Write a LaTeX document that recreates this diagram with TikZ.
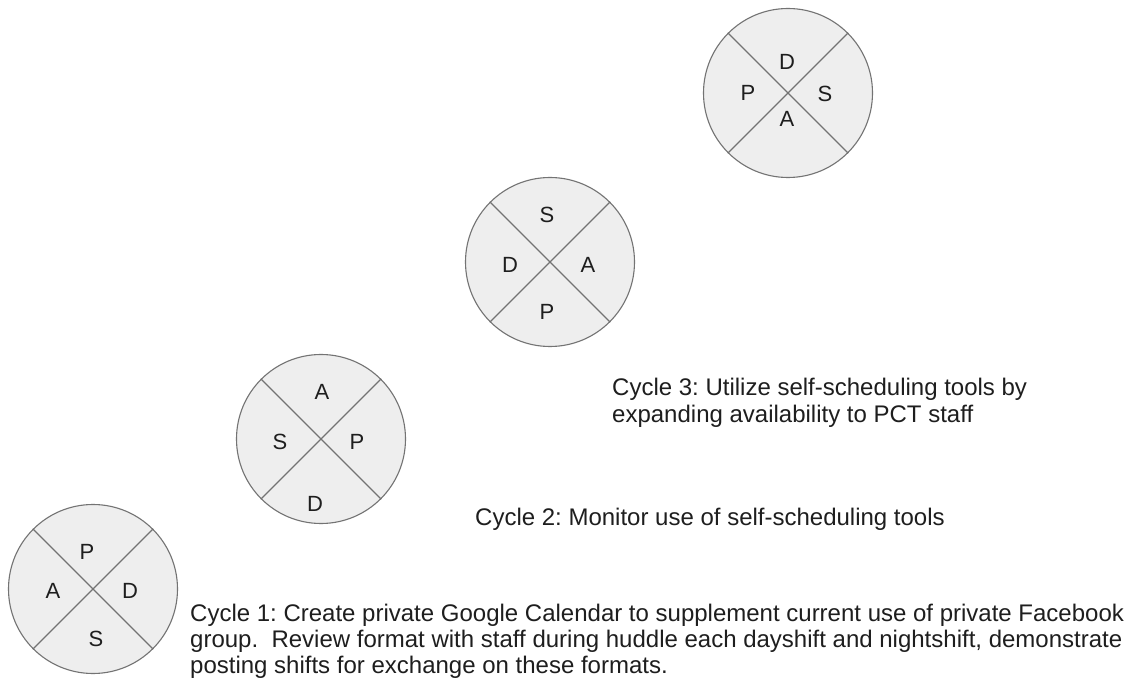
\documentclass[tikz,border=0pt]{standalone}
\usepackage{fontspec}
\setmainfont{Liberation Sans}
\frenchspacing
\definecolor{ringfill}{HTML}{EEEEEE}
\definecolor{ringline}{HTML}{737373}
\definecolor{inkc}{HTML}{1E1E1E}
\begin{document}
\begin{tikzpicture}[x=1pt,y=-1pt,
  ring/.style={circle, draw=ringline, fill=ringfill, line width=1.1pt, minimum size=169pt, inner sep=0pt},
  split/.style={draw=ringline, line width=1.1pt},
  letter/.style={inner sep=0pt, text=inkc, font=\fontsize{22}{26}\selectfont},
  caption/.style={inner sep=0pt, anchor=base west, text=inkc, font=\fontsize{24}{27}\selectfont}]
\useasboundingbox[fill=white] (0,0) rectangle (1141,684);
% cycle 1
\node[ring] (c1) at (93,589) {};
\draw[split] (c1.45) -- (c1.225);
\draw[split] (c1.135) -- (c1.315);
\node[letter] (c1p) at (87,552) {P};
\node[letter] (c1a) at (53,591) {A};
\node[letter] (c1d) at (130,591) {D};
\node[letter] (c1s) at (96,639) {S};
% cycle 2
\node[ring] (c2) at (321,439) {};
\draw[split] (c2.45) -- (c2.225);
\draw[split] (c2.135) -- (c2.315);
\node[letter] (c2a) at (322,392) {A};
\node[letter] (c2s) at (280,442) {S};
\node[letter] (c2p) at (357,442) {P};
\node[letter] (c2d) at (315,504) {D};
% cycle 3
\node[ring] (c3) at (550,262) {};
\draw[split] (c3.45) -- (c3.225);
\draw[split] (c3.135) -- (c3.315);
\node[letter] (c3s) at (547,215) {S};
\node[letter] (c3d) at (510,265) {D};
\node[letter] (c3a) at (588,265) {A};
\node[letter] (c3p) at (547,312) {P};
% cycle 4
\node[ring] (c4) at (788,93) {};
\draw[split] (c4.45) -- (c4.225);
\draw[split] (c4.135) -- (c4.315);
\node[letter] (c4d) at (787,62) {D};
\node[letter] (c4p) at (748,93) {P};
\node[letter] (c4s) at (825,94) {S};
\node[letter] (c4a) at (787,119) {A};
% captions
\node[caption] (t1a) at (190,621) {Cycle 1: Create private Google Calendar to supplement current use of private Facebook};
\node[caption] (t1b) at (190,647) {group.~ Review format with staff during huddle each dayshift and nightshift, demonstrate};
\node[caption] (t1c) at (190,673) {posting shifts for exchange on these formats.};
\node[caption] (t2) at (475,525) {Cycle 2: Monitor use of self-scheduling tools};
\node[caption] (t3a) at (612,396) {Cycle 3: Utilize self-scheduling tools by};
\node[caption] (t3b) at (612,423) {expanding availability to PCT staff};
\end{tikzpicture}
\end{document}
